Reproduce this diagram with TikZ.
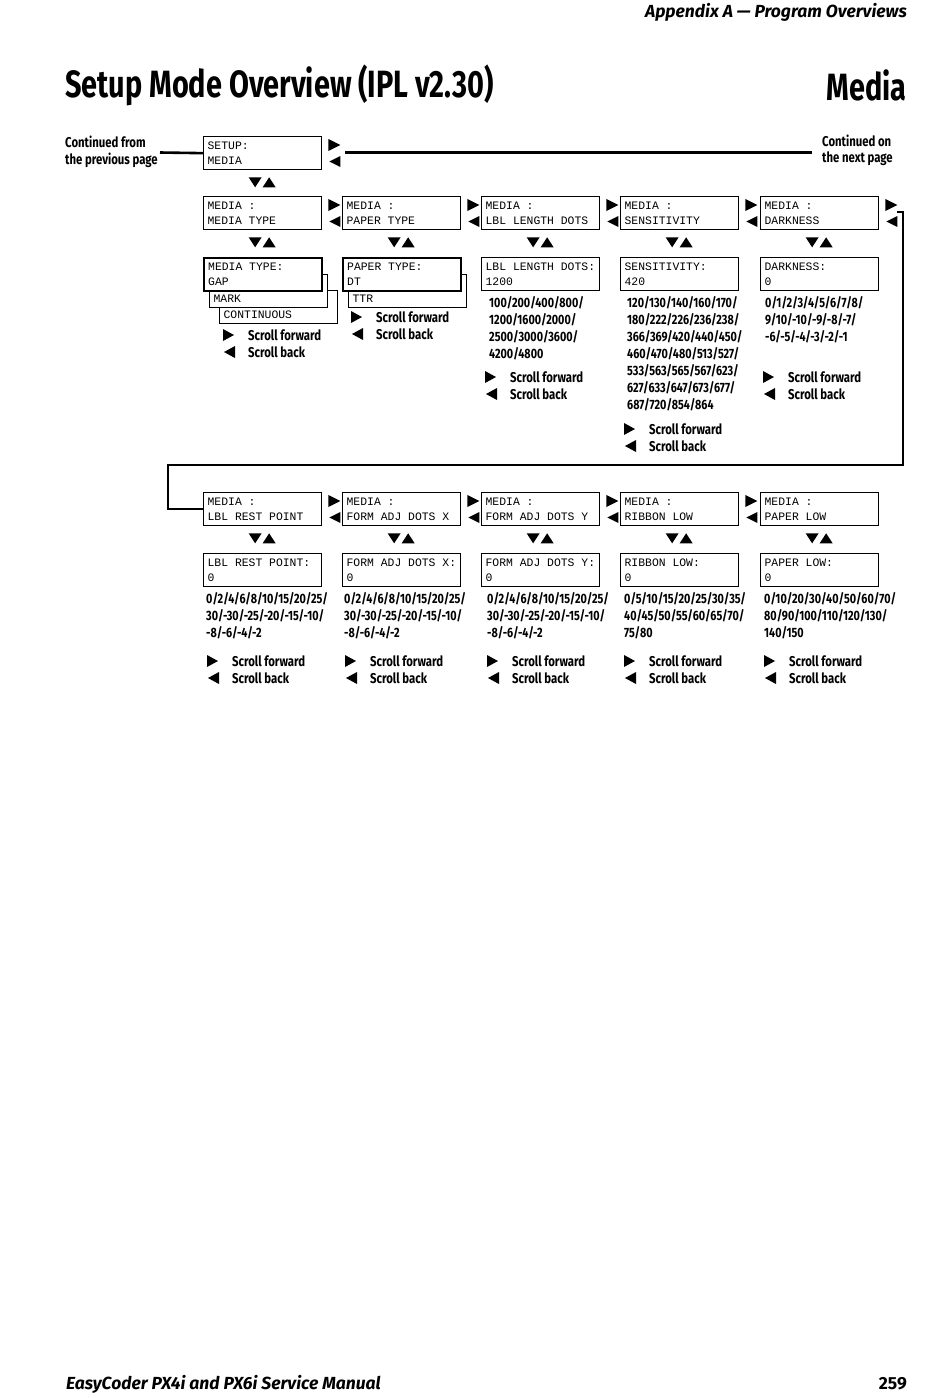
\documentclass[tikz,border=0pt]{standalone}
\usepackage{fontspec}
\setmainfont{Fira Sans}[FakeStretch=0.8]
\newfontfamily\lcdfont{Liberation Mono}
\newfontfamily\headfont{Fira Sans}[FakeStretch=0.76]
\newfontfamily\pagefont{Fira Sans}
\newcommand\lcdspacing{\spaceskip=6.84pt plus 0pt minus 0pt\relax
  \xspaceskip=6.84pt plus 0pt minus 0pt\relax}

\tikzset{
  lcd/.style={draw, line width=1.3pt, fill=white, anchor=north west,
    minimum height=33pt, text width=110pt, inner xsep=4pt, inner ysep=0pt,
    align=left, font=\lcdfont\fontsize{11.4}{15}\selectfont,
    execute at begin node=\lcdspacing},
  lcdsel/.style={lcd, line width=2.4pt},
  vals/.style={anchor=north west, align=left, inner sep=0pt,
    font=\bfseries\fontsize{13.5}{17}\selectfont},
  lgdtext/.style={anchor=west, align=left, inner sep=0pt,
    font=\bfseries\fontsize{14.2}{16.5}\selectfont},
  contline/.style={line width=2.6pt},
  wrapline/.style={line width=1.6pt},
  lr/.pic={\fill (6,3)--(18,9)--(6,15)--cycle;
           \fill (18,20)--(7,25.5)--(18,31)--cycle;},
  du/.pic={\fill (-14,7)--(-1,7)--(-7.5,17)--cycle;
           \fill (0,17)--(13,17)--(6.5,7)--cycle;},
  legend/.pic={\fill (0,-6)--(11,0)--(0,6)--cycle;
               \fill (12,11)--(1,17)--(12,23)--cycle;
               \node[lgdtext] (-txt) at (25,8.5) {Scroll forward\\Scroll back};},
}

\begin{document}
\begin{tikzpicture}[x=1pt,y=-1pt]
  \useasboundingbox (0,0) rectangle (950,1398);

  % page head
  \node[anchor=east, inner sep=0pt, font=\pagefont\bfseries\itshape\fontsize{17.5}{20}\selectfont] (apx) at (907,12) {Appendix A — Program Overviews};
  \node[anchor=west, inner sep=0pt, font=\headfont\bfseries\fontsize{38}{40}\selectfont] (title) at (65,85) {Setup Mode Overview (IPL v2.30)};
  \node[anchor=east, inner sep=0pt, font=\headfont\bfseries\fontsize{38}{40}\selectfont] (mtitle) at (907,85) {Media};

  % setup entry
  \node[lgdtext] (cfrom) at (65,152) {Continued from\\the previous page};
  \node[lgdtext] (cnext) at (822,150.5) {Continued on\\the next page};
  \node[lcd] (setup) at (203,136) {SETUP:\\MEDIA};
  \coordinate (cfromend) at (160,152.5);
  \coordinate (cnextstart) at (345,152.5);
  \coordinate (cnextend) at (812,152.5);
  \draw[contline] (cfromend) -- (setup.west);
  \draw[contline] (cnextstart) -- (cnextend);
  \pic at (setup.north east) {lr};
  \pic at (setup.south) {du};

  % first row of menus
  \node[lcd] (mtype) at (203,196) {MEDIA :\\MEDIA TYPE};
  \node[lcd] (ptype) at (342,196) {MEDIA :\\PAPER TYPE};
  \node[lcd] (lbllen) at (481,196) {MEDIA :\\LBL LENGTH DOTS};
  \node[lcd] (sens) at (620,196) {MEDIA :\\SENSITIVITY};
  \node[lcd] (dark) at (760,196) {MEDIA :\\DARKNESS};
  \foreach \b in {mtype,ptype,lbllen,sens,dark} {
    \pic at (\b.north east) {lr};
    \pic at (\b.south) {du};
  }

  \node[lcd] (mcont) at (219,290) {\phantom{M}\\CONTINUOUS};
  \node[lcd] (mmark) at (209,274) {\phantom{M}\\MARK};
  \node[lcdsel] (mgap) at (203,257) {MEDIA TYPE:\\GAP};
  \node[lcd] (pttr) at (348,274) {\phantom{M}\\TTR};
  \node[lcdsel] (pdt) at (342,257) {PAPER TYPE:\\DT};
  \node[lcd] (vlen) at (481,257) {LBL LENGTH DOTS:\\1200};
  \node[lcd] (vsens) at (620,257) {SENSITIVITY:\\420};
  \node[lcd] (vdark) at (760,257) {DARKNESS:\\0};

  \node[vals] (lenlist) at (489,296) {100/200/400/800/\\1200/1600/2000/\\2500/3000/3600/\\4200/4800};
  \node[vals] (senslist) at (627,296) {120/130/140/160/170/\\180/222/226/236/238/\\366/369/420/440/450/\\460/470/480/513/527/\\533/563/565/567/623/\\627/633/647/673/677/\\687/720/854/864};
  \node[vals] (darklist) at (765,296) {0/1/2/3/4/5/6/7/8/\\9/10/-10/-9/-8/-7/\\-6/-5/-4/-3/-2/-1};

  \pic (lga) at (223,335) {legend};
  \pic (lgb) at (351,317) {legend};
  \pic (lgc) at (485,377) {legend};
  \pic (lgd) at (624,429) {legend};
  \pic (lge) at (763,377) {legend};

  % wrap to second row
  \coordinate (wrapa) at (897,212);
  \coordinate (wrapb) at (903,465);
  \coordinate (wrapc) at (168,465);

  % second row of menus
  \node[lcd] (rest) at (203,492) {MEDIA :\\LBL REST POINT};
  \node[lcd] (fadjx) at (342,492) {MEDIA :\\FORM ADJ DOTS X};
  \node[lcd] (fadjy) at (481,492) {MEDIA :\\FORM ADJ DOTS Y};
  \node[lcd] (ribbon) at (620,492) {MEDIA :\\RIBBON LOW};
  \node[lcd] (plow) at (760,492) {MEDIA :\\PAPER LOW};
  \foreach \b in {rest,fadjx,fadjy,ribbon} \pic at (\b.north east) {lr};
  \foreach \b in {rest,fadjx,fadjy,ribbon,plow} \pic at (\b.south) {du};
  \draw[wrapline] (wrapa) -| (wrapb) -| (wrapc) |- (rest.west);

  \node[lcd] (vrest) at (203,553) {LBL REST POINT:\\0};
  \node[lcd] (vfadjx) at (342,553) {FORM ADJ DOTS X:\\0};
  \node[lcd] (vfadjy) at (481,553) {FORM ADJ DOTS Y:\\0};
  \node[lcd] (vribbon) at (620,553) {RIBBON LOW:\\0};
  \node[lcd] (vplow) at (760,553) {PAPER LOW:\\0};

  \node[vals] (restlist) at (206,592) {0/2/4/6/8/10/15/20/25/\\30/-30/-25/-20/-15/-10/\\-8/-6/-4/-2};
  \node[vals] (fadjxlist) at (344,592) {0/2/4/6/8/10/15/20/25/\\30/-30/-25/-20/-15/-10/\\-8/-6/-4/-2};
  \node[vals] (fadjylist) at (487,592) {0/2/4/6/8/10/15/20/25/\\30/-30/-25/-20/-15/-10/\\-8/-6/-4/-2};
  \node[vals] (ribbonlist) at (624,592) {0/5/10/15/20/25/30/35/\\40/45/50/55/60/65/70/\\75/80};
  \node[vals] (plowlist) at (764,592) {0/10/20/30/40/50/60/70/\\80/90/100/110/120/130/\\140/150};

  \pic (lgf) at (207,661) {legend};
  \pic (lgg) at (345,661) {legend};
  \pic (lgh) at (487,661) {legend};
  \pic (lgi) at (624,661) {legend};
  \pic (lgj) at (764,661) {legend};

  % page foot
  \node[anchor=west, inner sep=0pt, font=\pagefont\bfseries\itshape\fontsize{17.5}{20}\selectfont] (manual) at (66,1384) {EasyCoder PX4i and PX6i Service Manual};
  \node[anchor=east, inner sep=0pt, font=\pagefont\bfseries\fontsize{17.5}{20}\selectfont] (pageno) at (907,1384) {259};
\end{tikzpicture}
\end{document}
